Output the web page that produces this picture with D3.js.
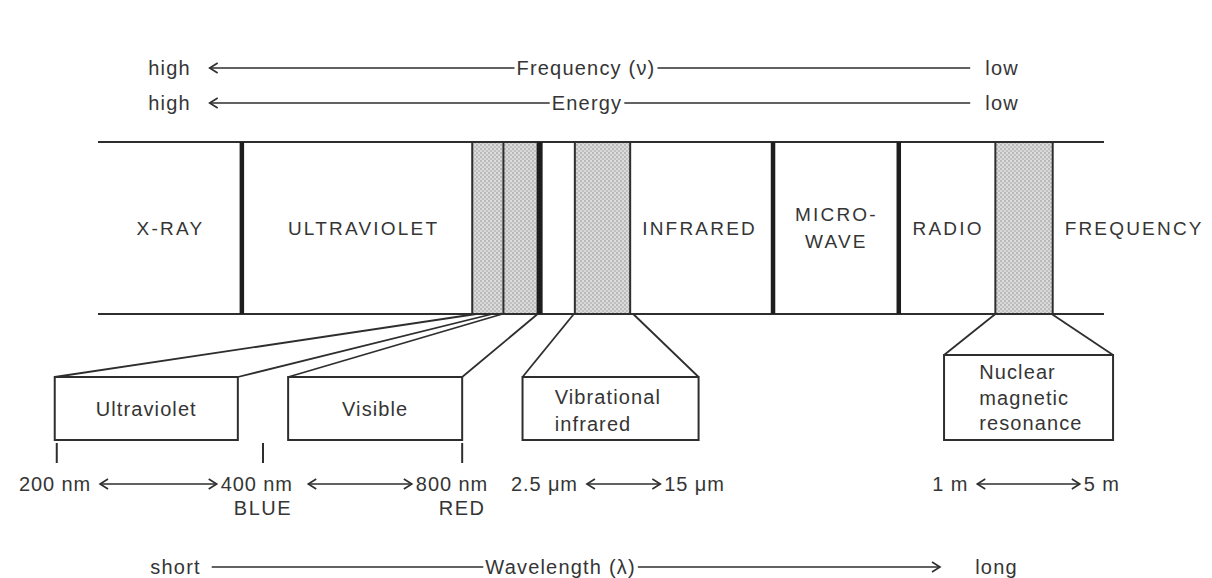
<!DOCTYPE html>
<html lang="en">
<head>
<meta charset="utf-8">
<title>Electromagnetic spectrum</title>
<script src="https://d3js.org/d3.v7.min.js"></script>
<style>
  body { margin: 0; background: #fff; }
  svg text { font-family: "Liberation Sans", Arial, sans-serif; fill: #353535; }
</style>
</head>
<body>
<div id="chart"></div>
<script>
// spectrum positions are in arbitrary units along the band (0 = left end, 100 = right end)
var bandNames   = [["X-RAY"], ["ULTRAVIOLET"], ["INFRARED"], ["MICRO-", "WAVE"], ["RADIO"], ["FREQUENCY"]];
var bandCenters = [7.2, 26.4, 59.8, 73.4, 84.5, 103.0];
var majorDividers = [14.3, 43.9, 67.1, 79.6];
var minorDividers = [37.2, 40.3, 47.4, 52.9, 89.2, 94.9];
var shadedBands = [[37.2, 40.3], [40.3, 43.9], [47.4, 52.9], [89.2, 94.9]];

var calloutNames   = [["Ultraviolet"], ["Visible"], ["Vibrational", "infrared"], ["Nuclear", "magnetic", "resonance"]];
var calloutBoxes   = [[-4.3, 13.9], [18.9, 36.2], [42.2, 59.7], [84.1, 100.9]];
var calloutSources = [[37.6, 39.2], [40.2, 43.7], [47.3, 53.2], [89.2, 94.8]];
var calloutTextAt  = [null, null, 45.4, 87.6];   // left-aligned labels, null = centred

var tickMarks = [-4.1, 16.4, 36.2];
var rangeLabels = [["200 nm", "400 nm"], ["400 nm", "800 nm"], ["2.5 \u03bcm", "15 \u03bcm"], ["1 m", "5 m"]];
var rangeArrows = [[0.2, 11.8], [20.9, 31.2], [48.6, 55.9], [87.4, 97.6]];
var colourNames = ["BLUE", "RED"];
var colourAt    = [16.4, 36.2];

// scale rows: [left word, middle word, right word]
var scaleRows   = [["high", "Frequency (\u03bd)", "low"], ["high", "Energy", "low"], ["short", "Wavelength (\u03bb)", "long"]];
var scaleMiddle = [41.6, 45.1, 38.5];
var scaleSpans  = [[11.1, 86.7], [11.1, 86.7], [11.3, 83.7]];
var scaleEnds   = [[5.0, 88.2], [5.0, 88.2], [5.2, 87.2]];
var arrowLeft   = [true, true, false];

var W = 1212, H = 578;
var svg = d3.select("#chart").append("svg").attr("width", W).attr("height", H);

var x = d3.scaleLinear().domain([0, 100]).range([98, 1104]);
var bandTop = 142, bandBottom = 314, boxBottom = 440;
var rowY = [68, 103, 567];
var ink = "#2e2e2e";

var defs = svg.append("defs");
var pat = defs.append("pattern").attr("id", "stipple").attr("patternUnits", "userSpaceOnUse")
  .attr("width", 4).attr("height", 4);
pat.append("rect").attr("width", 4).attr("height", 4).attr("fill", "#d8d8d8");
pat.append("circle").attr("cx", 1).attr("cy", 1).attr("r", 0.8).attr("fill", "#929292");
pat.append("circle").attr("cx", 3).attr("cy", 3).attr("r", 0.8).attr("fill", "#a2a2a2");
pat.append("circle").attr("cx", 3).attr("cy", 1).attr("r", 0.6).attr("fill", "#f2f2f2");

function chevron(g, tipX, y, dir) {
  g.append("path")
    .attr("d", "M" + (tipX - dir * 8) + "," + (y - 5) + "L" + tipX + "," + y + "L" + (tipX - dir * 8) + "," + (y + 5))
    .attr("fill", "none").attr("stroke", ink).attr("stroke-width", 1.6);
}

// shaded bands
svg.selectAll(".shade").data(shadedBands).enter().append("rect")
  .attr("x", function(d) { return x(d[0]); })
  .attr("y", bandTop)
  .attr("width", function(d) { return x(d[1]) - x(d[0]); })
  .attr("height", bandBottom - bandTop)
  .attr("fill", "url(#stipple)");

// band outline
[bandTop, bandBottom].forEach(function(yy) {
  svg.append("line").attr("x1", x(0)).attr("x2", x(100)).attr("y1", yy).attr("y2", yy)
    .attr("stroke", ink).attr("stroke-width", 2);
});

svg.selectAll(".minor").data(minorDividers).enter().append("line")
  .attr("x1", function(d) { return x(d); }).attr("x2", function(d) { return x(d); })
  .attr("y1", bandTop).attr("y2", bandBottom)
  .attr("stroke", ink).attr("stroke-width", 2);

svg.selectAll(".major").data(majorDividers).enter().append("line")
  .attr("x1", function(d) { return x(d); }).attr("x2", function(d) { return x(d); })
  .attr("y1", bandTop).attr("y2", bandBottom)
  .attr("stroke", "#1e1e1e").attr("stroke-width", function(d, i) { return i == 1 ? 6 : 4.5; });

// band names
bandNames.forEach(function(lines, i) {
  var t = svg.append("text").attr("text-anchor", "middle")
    .attr("font-size", 19).attr("letter-spacing", 2.2);
  lines.forEach(function(s, j) {
    t.append("tspan").attr("x", x(bandCenters[i]))
      .attr("y", 228 + (j - (lines.length - 1) / 2) * 27)
      .attr("dy", "0.36em").text(s);
  });
});

// callouts
calloutBoxes.forEach(function(b, i) {
  var src = calloutSources[i];
  var lines = calloutNames[i];
  var top = boxBottom - (lines.length > 2 ? 85 : 63);
  svg.append("line").attr("x1", x(b[0])).attr("y1", top).attr("x2", x(src[0])).attr("y2", bandBottom)
    .attr("stroke", ink).attr("stroke-width", 1.8);
  svg.append("line").attr("x1", x(b[1])).attr("y1", top).attr("x2", x(src[1])).attr("y2", bandBottom)
    .attr("stroke", ink).attr("stroke-width", 1.8);
  svg.append("rect").attr("x", x(b[0])).attr("y", top)
    .attr("width", x(b[1]) - x(b[0])).attr("height", boxBottom - top)
    .attr("fill", "#fff").attr("stroke", ink).attr("stroke-width", 2);

  var left = calloutTextAt[i];
  var t = svg.append("text").attr("font-size", 20).attr("letter-spacing", 1.1)
    .attr("text-anchor", left == null ? "middle" : "start");
  var mid = (top + boxBottom) / 2 + (lines.length == 2 ? 2 : 0);
  var step = lines.length == 3 ? 25.5 : 27;
  lines.forEach(function(s, j) {
    t.append("tspan")
      .attr("x", left == null ? x((b[0] + b[1]) / 2) : x(left))
      .attr("y", mid + (j - (lines.length - 1) / 2) * step)
      .attr("dy", "0.36em").text(s);
  });
});

// tick marks under the UV / visible boxes
svg.selectAll(".tick").data(tickMarks).enter().append("line")
  .attr("x1", function(d) { return x(d); }).attr("x2", function(d) { return x(d); })
  .attr("y1", 443).attr("y2", 463)
  .attr("stroke", ink).attr("stroke-width", 2);

// wavelength ranges
var rangeY = 484;
var placed = {};
rangeArrows.forEach(function(a, i) {
  var x1 = x(a[0]), x2 = x(a[1]);
  svg.append("line").attr("x1", x1).attr("x2", x2).attr("y1", rangeY).attr("y2", rangeY)
    .attr("stroke", ink).attr("stroke-width", 1.4);
  chevron(svg, x1, rangeY, -1);
  chevron(svg, x2, rangeY, 1);
  var lbl = rangeLabels[i];
  if (!placed[lbl[0]]) {
    svg.append("text").attr("x", x1 - 9).attr("y", rangeY).attr("dy", "0.36em")
      .attr("text-anchor", "end").attr("font-size", 20).attr("letter-spacing", 0.9).text(lbl[0]);
    placed[lbl[0]] = true;
  }
  if (!placed[lbl[1]]) {
    svg.append("text").attr("x", x2 + 4).attr("y", rangeY).attr("dy", "0.36em")
      .attr("text-anchor", "start").attr("font-size", 20).attr("letter-spacing", 0.9).text(lbl[1]);
    placed[lbl[1]] = true;
  }
});

svg.selectAll(".colour").data(colourNames).enter().append("text")
  .attr("x", function(d, i) { return x(colourAt[i]); })
  .attr("y", 508).attr("dy", "0.36em")
  .attr("text-anchor", "middle").attr("font-size", 20).attr("letter-spacing", 1.5)
  .text(function(d) { return d; });

// frequency / energy / wavelength scale rows
scaleRows.forEach(function(words, i) {
  var y = rowY[i];
  svg.append("text").attr("x", x(scaleEnds[i][0])).attr("y", y).attr("dy", "0.36em")
    .attr("font-size", 20).attr("letter-spacing", 1.2).text(words[0]);
  svg.append("text").attr("x", x(scaleEnds[i][1])).attr("y", y).attr("dy", "0.36em")
    .attr("font-size", 20).attr("letter-spacing", 1.2).text(words[2]);
  var m = svg.append("text").attr("x", x(scaleMiddle[i])).attr("y", y).attr("dy", "0.36em")
    .attr("font-size", 20).attr("letter-spacing", 1.2).text(words[1]);
  var bb = m.node().getBBox();
  var s0 = x(scaleSpans[i][0]), s1 = x(scaleSpans[i][1]);
  svg.append("line").attr("x1", s0).attr("x2", bb.x - 2).attr("y1", y).attr("y2", y)
    .attr("stroke", ink).attr("stroke-width", 1.6);
  svg.append("line").attr("x1", bb.x + bb.width + 2).attr("x2", s1).attr("y1", y).attr("y2", y)
    .attr("stroke", ink).attr("stroke-width", 1.6);
  if (arrowLeft[i]) chevron(svg, s0, y, -1);
  else chevron(svg, s1, y, 1);
});
</script>
</body>
</html>
